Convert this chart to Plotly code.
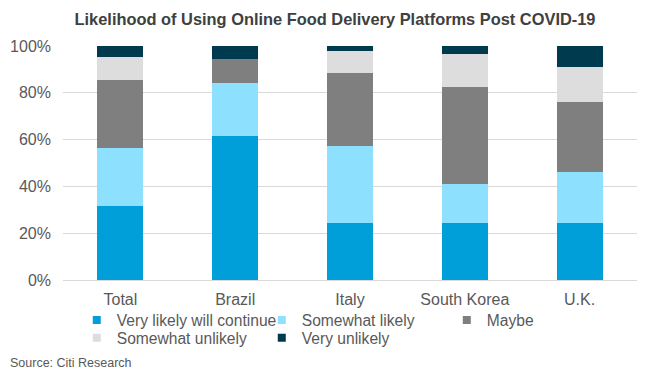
import plotly.graph_objects as go

categories = ["Total", "Brazil", "Italy", "South Korea", "U.K."]
very_likely = [31.7, 61.7, 24.4, 24.4, 24.4]
somewhat_likely = [24.9, 22.7, 33.0, 16.7, 21.9]
maybe = [28.7, 9.9, 30.9, 41.2, 29.6]
somewhat_unlikely = [9.8, 0.0, 9.4, 14.1, 15.0]
very_unlikely = [4.9, 5.7, 2.3, 3.6, 9.1]

series = [
    ("Very likely will continue", very_likely, "#009FDA", "legend"),
    ("Somewhat likely", somewhat_likely, "#8EE0FF", "legend"),
    ("Maybe", maybe, "#7F7F7F", "legend"),
    ("Somewhat unlikely", somewhat_unlikely, "#DDDDDD", "legend2"),
    ("Very unlikely", very_unlikely, "#003A4F", "legend2"),
]

FONT = "Liberation Sans, Arial, sans-serif"
TXT = "#595959"

fig = go.Figure()
for name, vals, color, lg in series:
    fig.add_trace(go.Bar(x=categories, y=vals, name=name, showlegend=False,
                         legendgroup=name,
                         marker=dict(color=color, line=dict(width=0))))
# legend entries with small square swatches, as in the reference
for name, vals, color, lg in series:
    fig.add_trace(go.Scatter(x=[None], y=[None], mode="markers", name=name,
                             legend=lg, legendgroup=name, hoverinfo="skip",
                             marker=dict(symbol="square", size=8, color=color,
                                         line=dict(width=0))))

legend_common = dict(orientation="h", x=0.024, xanchor="left", yanchor="top",
                     entrywidth=140, entrywidthmode="pixels", traceorder="normal",
                     font=dict(family=FONT, size=15.6, color=TXT), itemclick=False,
                     bgcolor="rgba(0,0,0,0)")

fig.update_layout(
    barmode="stack",
    bargap=0.6,
    width=651, height=375,
    margin=dict(l=63, r=14, t=46, b=95, autoexpand=False),
    paper_bgcolor="white", plot_bgcolor="white",
    font=dict(family=FONT, size=16, color=TXT),
    title=dict(text="<b>Likelihood of Using Online Food Delivery Platforms Post COVID-19</b>",
               font=dict(family=FONT, size=16.4, color="#404040"),
               x=0.5146, xref="container", xanchor="center",
               y=1 - 19 / 375, yref="container", yanchor="middle"),
    xaxis=dict(showgrid=False, showline=False, ticks="", ticklabelstandoff=8,
               tickfont=dict(size=16, color=TXT)),
    yaxis=dict(range=[0, 100], dtick=20, ticksuffix="%", showgrid=True,
               gridcolor="#D9D9D9", gridwidth=1, zeroline=True, zerolinecolor="#D9D9D9",
               zerolinewidth=1, showline=False, ticks="", ticklabelstandoff=11,
               tickfont=dict(size=16, color=TXT)),
    legend=dict(legend_common, y=-0.10),
    legend2=dict(legend_common, y=-0.176),
    showlegend=True,
    annotations=[dict(text="Source: Citi Research", xref="paper", yref="paper",
                      x=-0.0958, y=-0.355, xanchor="left", yanchor="middle",
                      showarrow=False, font=dict(family=FONT, size=12.5, color=TXT))],
)

fig.write_html("out.html", config={"displayModeBar": False},
               post_script="document.body.style.margin='0';")
